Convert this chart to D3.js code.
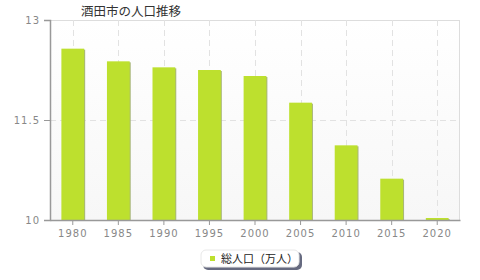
<!DOCTYPE html>
<meta charset="utf-8">
<script src="https://d3js.org/d3.v7.min.js"></script>
<style>
  body { margin: 0; background: #fff; }
  text { font-family: "Noto Sans CJK JP", "DejaVu Sans", sans-serif; }
</style>
<div id="page"></div>
<script>
  // Data
  var years = ["1980", "1985", "1990", "1995", "2000", "2005", "2010", "2015", "2020"];
  var population = [12.57, 12.38, 12.29, 12.25, 12.16, 11.76, 11.12, 10.62, 10.03];
  var yTicks = [10, 11.5, 13];
  var title = "酒田市の人口推移";
  var seriesName = "総人口（万人）";

  var margin = { top: 20, right: 20, bottom: 60, left: 50 },
    width = 480 - margin.left - margin.right,
    height = 280 - margin.top - margin.bottom;

  var root = d3.select("#page").append("svg")
    .attr("width", 480)
    .attr("height", 280);

  var defs = root.append("defs");
  var grad = defs.append("linearGradient")
    .attr("id", "bg").attr("x1", 0).attr("y1", 0).attr("x2", 0).attr("y2", 1);
  grad.append("stop").attr("offset", "0%").attr("stop-color", "#ffffff");
  grad.append("stop").attr("offset", "100%").attr("stop-color", "#f7f7f7");

  var svg = root.append("g")
    .attr("transform", "translate(" + margin.left + "," + margin.top + ")");

  var x = d3.scaleBand().domain(years).range([0, width])
    .paddingInner(0.5).paddingOuter(0.25);
  var y = d3.scaleLinear().domain([10, 13]).range([height, 0]);

  // plot background
  svg.append("rect")
    .attr("width", width).attr("height", height)
    .attr("fill", "url(#bg)");
  svg.append("line").attr("x1", 0).attr("x2", width).attr("y1", 0.5).attr("y2", 0.5)
    .attr("stroke", "#ddd");
  svg.append("line").attr("x1", width - 0.5).attr("x2", width - 0.5).attr("y1", 0).attr("y2", height)
    .attr("stroke", "#ddd");

  // grid
  svg.selectAll(".vgrid").data(years).enter().append("line")
    .attr("x1", function (d) { return Math.round(x(d) + x.bandwidth() / 2) + 0.5; })
    .attr("x2", function (d) { return Math.round(x(d) + x.bandwidth() / 2) + 0.5; })
    .attr("y1", 0).attr("y2", height)
    .attr("stroke", "#e2e2e2").attr("stroke-dasharray", "6,4");
  svg.selectAll(".hgrid").data(yTicks.slice(1, -1)).enter().append("line")
    .attr("x1", 0).attr("x2", width)
    .attr("y1", function (d) { return Math.round(y(d)) + 0.5; })
    .attr("y2", function (d) { return Math.round(y(d)) + 0.5; })
    .attr("stroke", "#e2e2e2").attr("stroke-dasharray", "6,4");

  // bars with a little shadow on the right
  svg.selectAll(".shadow").data(population).enter().append("rect")
    .attr("x", function (d, i) { return x(years[i]) + 1; })
    .attr("y", function (d) { return y(d) + 1; })
    .attr("width", x.bandwidth())
    .attr("height", function (d) { return height - y(d) - 1; })
    .attr("fill", "#a8b67a");
  svg.selectAll(".bar").data(population).enter().append("rect")
    .attr("x", function (d, i) { return x(years[i]); })
    .attr("y", function (d) { return y(d); })
    .attr("width", x.bandwidth())
    .attr("height", function (d) { return height - y(d); })
    .attr("fill", "#bde02e");

  // axes
  var yAxis = svg.append("g")
    .call(d3.axisLeft(y).tickValues(yTicks).tickSize(6).tickPadding(4)
      .tickFormat(function (d) { return d === 11.5 ? "11.5" : d; }));
  yAxis.select(".domain").attr("stroke", "#999").attr("stroke-width", 1.5);
  yAxis.selectAll(".tick line").attr("stroke", "#999");
  yAxis.selectAll("text").attr("fill", "#888").attr("font-size", "10px")
    .style("font-family", "'DejaVu Sans', sans-serif").attr("letter-spacing", "1px");

  var xAxis = svg.append("g")
    .attr("transform", "translate(0," + height + ")")
    .call(d3.axisBottom(x).tickSize(5).tickSizeOuter(0).tickPadding(5));
  xAxis.select(".domain").attr("stroke", "#999").attr("stroke-width", 1.5);
  xAxis.selectAll(".tick line").attr("stroke", "#999");
  xAxis.selectAll("text").attr("fill", "#888").attr("font-size", "10px")
    .style("font-family", "'DejaVu Sans', sans-serif").attr("letter-spacing", "1px");

  // title
  root.append("text")
    .attr("x", 131).attr("y", 16)
    .attr("text-anchor", "middle")
    .attr("font-size", "12.5px")
    .attr("fill", "#333")
    .text(title);

  // legend
  var lg = root.append("g").attr("transform", "translate(201,250)");
  lg.append("rect").attr("x", 2).attr("y", 2).attr("width", 99).attr("height", 18).attr("rx", 5)
    .attr("fill", "#666a80");
  lg.append("rect").attr("x", 0).attr("y", 0).attr("width", 98).attr("height", 17).attr("rx", 5)
    .attr("fill", "#fff").attr("stroke", "#e8e8e8");
  lg.append("rect").attr("x", 9).attr("y", 6).attr("width", 5).attr("height", 5).attr("fill", "#bde02e");
  lg.append("text").attr("x", 20).attr("y", 12.5)
    .attr("font-size", "11px").attr("fill", "#222").text(seriesName);
</script>
